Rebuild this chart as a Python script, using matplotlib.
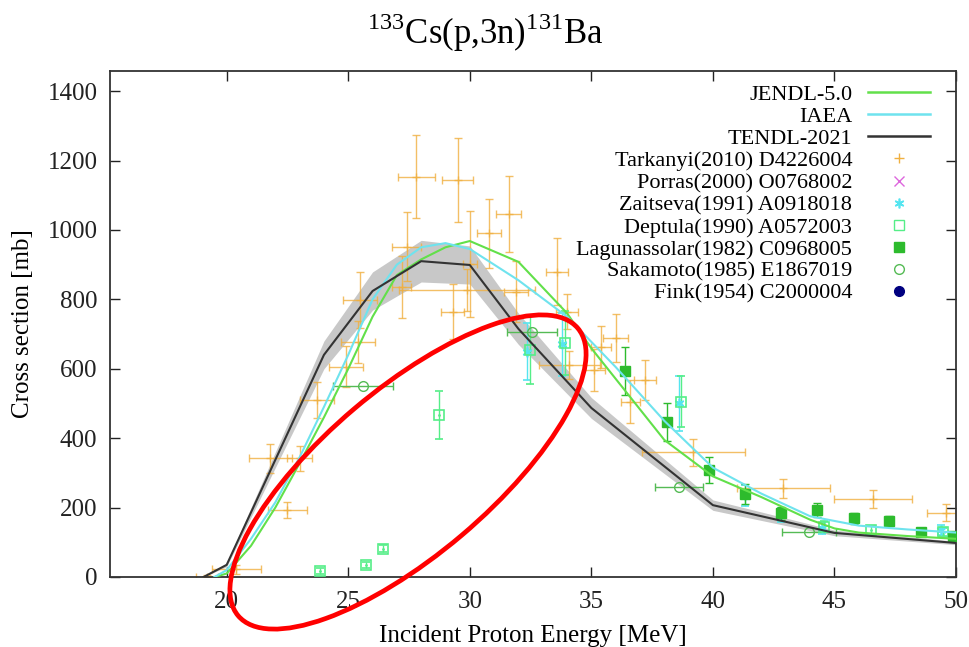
import numpy as np
import matplotlib
matplotlib.use("Agg")
import matplotlib.pyplot as plt
from matplotlib.lines import Line2D
from matplotlib.patches import Ellipse
from matplotlib.transforms import IdentityTransform

plt.rcParams['font.family'] = ['Liberation Serif', 'DejaVu Serif']
plt.rcParams['mathtext.fontset'] = 'custom'
plt.rcParams['mathtext.rm'] = 'Liberation Serif'

# Evaluations
jendl_e = [19.5, 20, 21, 22, 23, 24, 25, 26, 27, 28, 29, 30, 32, 34, 35, 38, 40, 42, 44, 45, 46, 48, 50]
jendl_s = [0, 10, 90, 200, 328, 460, 600, 750, 870, 915, 950, 968, 908, 760, 659, 395, 290, 230, 165, 140, 128, 118, 110]

iaea_e = [19.5, 20, 21, 22, 23, 24, 25, 26, 27, 28, 29, 30, 32, 34, 36, 38, 40, 42, 44, 46, 48, 50]
iaea_s = [0, 20, 110, 215, 345, 490, 640, 800, 900, 950, 962, 945, 855, 750, 605, 450, 315, 240, 175, 148, 137, 128]

tendl_e = [19.05, 20, 24, 26, 28, 30, 32, 35, 40, 45, 50]
tendl_s = [0, 35, 640, 824, 910, 899, 715, 487, 207, 127, 98]
tendl_unc = [0, 5, 40, 55, 60, 55, 45, 30, 15, 8, 5]

# Tarkanyi(2010): energy, xs, dE, dxs
tar_e = [19.2, 20.4, 21.8, 23.0, 22.5, 23.7, 24.9, 25.4, 25.5, 27.4, 27.2, 27.8, 29.5, 29.3, 29.9, 30.0,
         30.8, 31.6, 31.9, 33.6, 34.0, 34.1, 35.1, 35.4, 36.0, 36.6, 37.2, 39.2, 42.9, 46.6, 49.6]
tar_s = [0, 22, 342, 342, 193, 510, 606, 678, 798, 952, 835, 1153, 1144, 764, 827, 902,
         990, 1046, 822, 880, 764, 610, 596, 663, 689, 505, 567, 360, 256, 225, 185]
tar_de = [0.45, 1.0, 0.9, 0.5, 0.8, 0.7, 0.7, 0.7, 0.7, 0.6, 0.4, 0.75, 0.63, 0.48, 2.8, 0.3,
          0.5, 0.52, 0.5, 0.45, 0.45, 1.25, 0.45, 0.4, 0.52, 0.4, 0.45, 2.1, 1.9, 1.6, 0.8]
tar_ds = [5, 12, 41, 36, 24, 53, 60, 60, 82, 100, 90, 120, 120, 79, 60, 153,
          100, 109, 88, 96, 50, 40, 60, 60, 70, 62, 58, 39, 27, 25, 25]

# Zaitseva(1991)
zai_e = [32.35, 33.8, 38.6, 41.3, 42.8, 44.5, 49.4]
zai_s = [649, 670, 500, 235, 178, 140, 135]
zai_ds = [82, 90, 80, 30, 20, 15, 15]

# Deptula(1990)
dep_e = [23.83, 25.71, 26.44, 28.75, 32.48, 33.93, 38.67, 44.56, 46.5, 49.45]
dep_s = [18, 35, 81, 467, 654, 674, 505, 145, 135, 130]
dep_ds = [8, 8, 10, 70, 98, 91, 74, 15, 12, 12]

# Lagunassolar(1982)
lag_e = [36.4, 38.12, 39.83, 41.34, 42.78, 44.3, 45.8, 47.25, 48.55, 49.86]
lag_s = [594, 446, 308, 239, 183, 193, 169, 162, 130, 119]
lag_ds = [70, 55, 38, 30, 20, 20, 15, 15, 12, 12]

# Sakamoto(1985)
sak_e = [25.62, 32.55, 38.6, 43.95]
sak_s = [550, 707, 260, 131]
sak_de = [1.24, 1.03, 1.0, 1.1]

c_jendl = '#62e04a'
c_iaea = '#6fe3ee'
c_tendl = '#333333'
c_tar = '#f0b040'
c_zai = '#55e5f0'
c_dep = '#55ee88'
c_lag = '#2dbb2d'
c_sak = '#55bb55'
star = (6, 2, 0)

fig = plt.figure(figsize=(9.7, 6.47), dpi=100)
ax = fig.add_axes([0.1134, 0.1082, 0.8722, 0.7821])

lo = np.array(tendl_s) - np.array(tendl_unc)
hi = np.array(tendl_s) + np.array(tendl_unc)
ax.fill_between(tendl_e, lo, hi, color='#c8c8c8', lw=0, zorder=1)

eb = dict(ls='none', elinewidth=1.0, capsize=3, capthick=1.0)
ax.errorbar(tar_e, tar_s, xerr=tar_de, yerr=tar_ds, color=c_tar, marker='+', ms=6, alpha=0.8, zorder=2, **eb)
ax.errorbar(zai_e, zai_s, yerr=zai_ds, color=c_zai, marker=star, ms=7, mew=1.2, zorder=3, **eb)
ax.errorbar(dep_e, dep_s, yerr=dep_ds, color=c_dep, marker='s', ms=7, mfc='none', mew=1.2, zorder=3, **eb)
ax.plot(dep_e, dep_s, ls='none', marker='.', ms=2, color=c_dep, zorder=3)
ax.errorbar(lag_e, lag_s, yerr=lag_ds, color=c_lag, marker='s', ms=7, zorder=4, **eb)
ax.errorbar(sak_e, sak_s, xerr=sak_de, color=c_sak, marker='o', ms=7, mfc='none', mew=1.0, zorder=3, **eb)

ax.plot(jendl_e, jendl_s, color=c_jendl, lw=1.5, zorder=5)
ax.plot(iaea_e, iaea_s, color=c_iaea, lw=1.5, zorder=5)
ax.plot(tendl_e, tendl_s, color=c_tendl, lw=1.5, zorder=6)

handles = [
    Line2D([], [], color=c_jendl, lw=1.8),
    Line2D([], [], color=c_iaea, lw=1.8),
    Line2D([], [], color=c_tendl, lw=1.8),
    Line2D([], [], color=c_tar, marker='+', ls='none', ms=7),
    Line2D([], [], color='#dd66dd', marker='x', ls='none', ms=7),
    Line2D([], [], color=c_zai, marker=star, ls='none', ms=7, mew=1.2),
    Line2D([], [], color=c_dep, marker='s', mfc='none', ls='none', ms=7),
    Line2D([], [], color=c_lag, marker='s', ls='none', ms=7),
    Line2D([], [], color=c_sak, marker='o', mfc='none', ls='none', ms=7),
    Line2D([], [], color='#000080', marker='o', ls='none', ms=7),
]
labels = ['JENDL-5.0', 'IAEA', 'TENDL-2021', 'Tarkanyi(2010) D4226004', 'Porras(2000) O0768002',
          'Zaitseva(1991) A0918018', 'Deptula(1990) A0572003', 'Lagunassolar(1982) C0968005',
          'Sakamoto(1985) E1867019', 'Fink(1954) C2000004']
ax.legend(handles, labels, loc='upper right', frameon=False, markerfirst=False, fontsize=16,
          handlelength=2.8, labelspacing=0.07, handletextpad=0.7, borderaxespad=0.2,
          bbox_to_anchor=(0.985, 1.0))

ax.set_xlim(15.2, 50)
ax.set_ylim(0, 1458)
ax.set_xticks([20, 25, 30, 35, 40, 45, 50])
ax.set_yticks(range(0, 1401, 200))
ax.tick_params(direction='in', length=7, width=1.0, top=True, right=True, labelsize=18, colors='#222222')
ax.tick_params(axis='y', pad=9)
ax.tick_params(axis='x', pad=10)
for s in ax.spines.values():
    s.set_color('#333333')
    s.set_linewidth(1.3)

ax.set_xlabel('Incident Proton Energy [MeV]', fontsize=18, labelpad=9)
ax.set_ylabel('Cross section [mb]', fontsize=18, labelpad=10)
fig.text(0.5, 0.95, r'$^{133}$Cs(p,3n)$^{131}$Ba', ha='center', va='center', fontsize=25)

# red hand-drawn highlight ellipse (image annotation, in pixel coordinates)
fig.add_artist(Ellipse((408, 647 - 472), 445, 166, angle=40.25, fill=False, ec='#ff0000', lw=3.4,
                       transform=IdentityTransform(), zorder=10))

fig.savefig('out.png', dpi=100)
